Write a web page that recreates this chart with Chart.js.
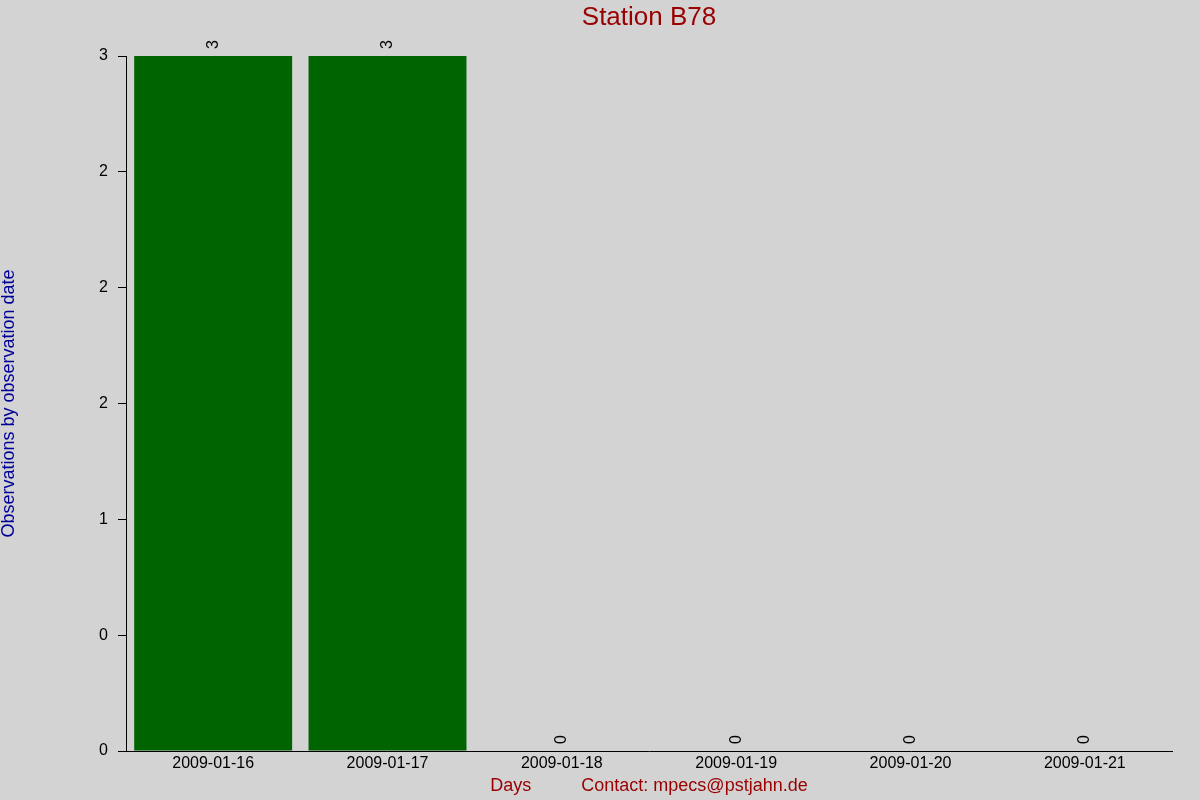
<!DOCTYPE html>
<html>
<head>
<meta charset="utf-8">
<title>Station B78</title>
<script src="https://cdn.jsdelivr.net/npm/chart.js@4.4.1/dist/chart.umd.min.js"></script>
<style>
  html, body { margin: 0; padding: 0; background: #d3d3d3; }
  #wrap { width: 1200px; height: 800px; }
</style>
</head>
<body>
<div id="wrap"><canvas id="station-chart" width="1200" height="800"></canvas></div>
<script>
  // Observations per day for station B78
  const days = ['2009-01-16', '2009-01-17', '2009-01-18', '2009-01-19', '2009-01-20', '2009-01-21'];
  const observations = [3, 3, 0, 0, 0, 0];
  const yTickValues = [0, 0.5, 1, 1.5, 2, 2.5, 3];

  const FONT = 'Liberation Sans, Arial, sans-serif';

  // the original rounds half steps to the even integer (0.5 -> 0, 1.5 -> 2, 2.5 -> 2)
  function roundHalfEven(v) {
    const f = Math.floor(v);
    if (Math.abs(v - f - 0.5) < 1e-9) return f % 2 === 0 ? f : f + 1;
    return Math.round(v);
  }

  const backgroundPlugin = {
    id: 'grayBackground',
    beforeDraw(chart) {
      const ctx = chart.ctx;
      ctx.save();
      ctx.fillStyle = '#d3d3d3';
      ctx.fillRect(0, 0, chart.width, chart.height);
      ctx.restore();
    }
  };

  // rotated value labels just above each bar
  const valueLabelPlugin = {
    id: 'valueLabels',
    afterDatasetsDraw(chart) {
      const ctx = chart.ctx;
      const meta = chart.getDatasetMeta(0);
      ctx.save();
      ctx.font = '16px ' + FONT;
      ctx.fillStyle = '#000';
      ctx.textAlign = 'left';
      ctx.textBaseline = 'middle';
      meta.data.forEach((bar, i) => {
        ctx.save();
        ctx.translate(bar.x, bar.y - 7);
        ctx.rotate(-Math.PI / 2);
        ctx.fillText(String(observations[i]), 0, 0);
        ctx.restore();
      });
      ctx.restore();
    }
  };

  const ctx = document.getElementById('station-chart').getContext('2d');
  new Chart(ctx, {
    type: 'bar',
    data: {
      labels: days,
      datasets: [{
        label: 'Observations',
        data: observations,
        backgroundColor: '#006400',
        borderWidth: 0,
        barPercentage: 0.906,
        categoryPercentage: 1.0
      }]
    },
    options: {
      responsive: false,
      devicePixelRatio: 1,
      animation: false,
      layout: { padding: { left: 0, right: 28, top: 0, bottom: 0 } },
      scales: {
        x: {
          afterFit: (scale) => { scale.height = 49; },
          grid: { display: true, drawOnChartArea: false, drawTicks: false },
          border: { display: true, color: '#000', width: 1 },
          ticks: {
            color: '#000',
            padding: 3,
            maxRotation: 0,
            autoSkip: false,
            font: { family: FONT, size: 16 }
          },
          title: {
            display: true,
            text: 'Days          Contact: mpecs@pstjahn.de',
            color: '#990000',
            font: { family: FONT, size: 18, lineHeight: 1 },
            padding: { top: 5, bottom: 5 }
          }
        },
        y: {
          min: 0,
          max: 3,
          afterFit: (scale) => { scale.width = 126; },
          afterBuildTicks: (scale) => { scale.ticks = yTickValues.map(v => ({ value: v })); },
          grid: { display: true, drawOnChartArea: false, drawTicks: true, tickLength: 8, color: '#000' },
          border: { display: true, color: '#000', width: 1 },
          ticks: {
            color: '#000',
            padding: 10,
            font: { family: FONT, size: 16 },
            callback: (value) => String(roundHalfEven(value))
          },
          title: {
            display: true,
            text: 'Observations by observation date',
            color: '#000099',
            font: { family: FONT, size: 18, lineHeight: 1 },
            padding: { top: 0, bottom: 0 }
          }
        }
      },
      plugins: {
        legend: { display: false },
        tooltip: { enabled: false },
        title: {
          display: true,
          fullSize: false,
          text: 'Station B78',
          color: '#990000',
          font: { family: FONT, size: 26, weight: 'normal', lineHeight: 1.2 },
          padding: { top: 2.7, bottom: 22.1 }
        }
      }
    },
    plugins: [backgroundPlugin, valueLabelPlugin]
  });
</script>
</body>
</html>
